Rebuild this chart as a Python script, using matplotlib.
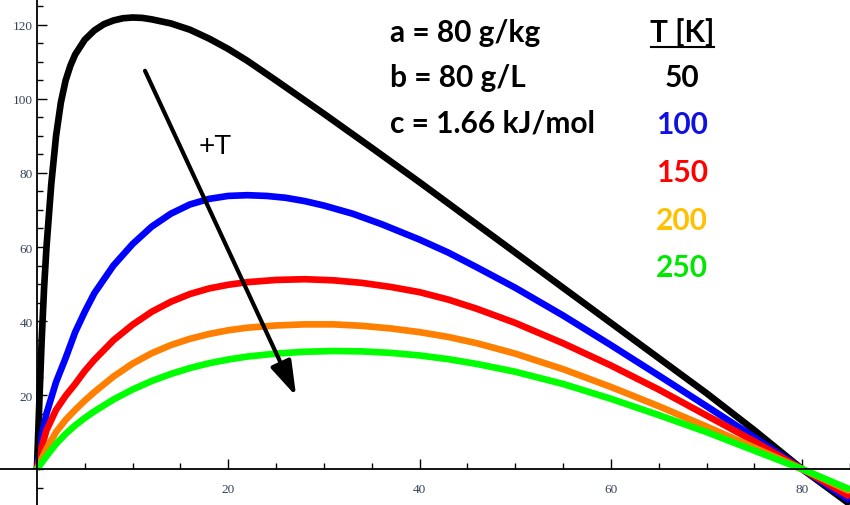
import matplotlib
matplotlib.use('Agg')
import matplotlib.pyplot as plt
from matplotlib.lines import Line2D

# curves, one x grid per curve
x_50 = [0, 0.25, 0.5, 0.75, 1, 1.5, 2, 2.5, 3, 3.5, 4, 5, 6, 7, 8, 9, 10, 11, 12, 14, 16, 18, 20, 22,
        25, 30, 35, 40, 45, 50, 55, 60, 65, 70, 75, 80, 85]
y_50 = [0, 18, 35, 49, 60, 77, 90, 99, 105, 109, 112, 116, 118.5, 120.2, 121.2, 121.8, 122, 121.9, 121.5,
        120.4, 118.7, 116.3, 113.5, 110.3, 105, 96, 86.8, 77.5, 68, 58.5, 49, 39.5, 30, 20.5, 10.5, 0, -9.5]

x_100 = [0, 0.5, 1, 2, 3, 4, 5, 6, 8, 10, 12, 14, 16, 18, 20, 22, 24, 26, 28, 30, 33, 36, 40, 43, 46,
         50, 55, 60, 65, 70, 75, 80, 85]
y_100 = [0, 9, 15, 23.5, 30, 37, 42.5, 47.5, 55, 60.8, 65.5, 69, 71.5, 73, 73.8, 74, 73.8, 73.3, 72.4,
         71.2, 69, 66.2, 62, 58.5, 54.5, 49, 41.5, 33.5, 25.3, 17, 8.6, 0, -8.5]

x_150 = [0, 0.5, 1, 2, 3, 4, 5, 6, 8, 10, 12, 14, 16, 18, 20, 22, 25, 28, 31, 34, 37, 40, 43, 46,
         50, 55, 60, 65, 70, 75, 80, 85]
y_150 = [0, 6, 10.5, 16, 19.8, 23, 26.5, 29.5, 34.8, 39, 42.5, 45.2, 47.3, 48.8, 49.8, 50.5, 51.1, 51.3,
         51, 50.3, 49.2, 47.8, 45.8, 43.3, 39.5, 34, 28, 21.5, 14.5, 7.5, 0, -7.5]

x_200 = [0, 1, 2, 3, 4, 5, 6, 8, 10, 12, 14, 16, 18, 20, 22, 25, 28, 31, 34, 37, 40, 43, 46,
         50, 55, 60, 65, 70, 75, 80, 85]
y_200 = [0, 5.5, 10, 13.3, 16, 18.5, 20.8, 25, 28.5, 31.3, 33.5, 35.2, 36.5, 37.5, 38.2, 38.8, 39.1,
         39.1, 38.7, 38, 37, 35.7, 34, 31.2, 27, 22.2, 17, 11.5, 5.8, 0, -6]

x_250 = [0, 1, 2, 3, 4, 5, 6, 8, 10, 12, 14, 16, 18, 20, 22, 25, 28, 31, 34, 37, 40, 43, 46,
         50, 55, 60, 65, 70, 75, 80, 85]
y_250 = [0, 3.5, 6.8, 9.5, 11.8, 13.8, 15.6, 18.8, 21.5, 23.8, 25.7, 27.3, 28.6, 29.6, 30.4, 31.2, 31.7,
         31.9, 31.8, 31.4, 30.7, 29.7, 28.4, 26.3, 23, 19, 14.6, 10, 5, 0, -5.5]

temps = ['50', '100', '150', '200', '250']
line_colors = ['black', '#0000ff', '#ff0000', '#ff8000', '#00ff00']
text_colors = ['black', '#1010e0', '#ff0000', '#ffc000', '#00e800']
params = ['a = 80 g/kg', 'b = 80 g/L', 'c = 1.66 kJ/mol']

fig = plt.figure(figsize=(8.5, 5.06), dpi=100)
ax = fig.add_axes([0, 0, 1, 1])

for xs, ys, col in zip([x_50, x_100, x_150, x_200, x_250],
                       [y_50, y_100, y_150, y_200, y_250], line_colors):
    ax.plot(xs, ys, color=col, lw=4.8, solid_capstyle='butt', solid_joinstyle='round')

ax.set_xlim(-3.86, 84.8)
ax.set_ylim(-9.7, 127)

# Mathematica-like axes through the origin
for s in ['top', 'right']:
    ax.spines[s].set_visible(False)
ax.spines['left'].set_position(('data', 0))
ax.spines['bottom'].set_position(('data', 0))
ax.spines['left'].set_linewidth(1.3)
ax.spines['bottom'].set_linewidth(1.3)
ax.set_xticks([20, 40, 60, 80])
ax.set_xticks(range(0, 86, 5), minor=True)
ax.set_yticks([20, 40, 60, 80, 100, 120])
ax.set_yticks(range(-5, 126, 5), minor=True)
ax.tick_params(which='both', direction='in', width=1, colors='black',
               labelcolor='#34425a', labelsize=9.5)
ax.tick_params(which='major', length=7)
ax.tick_params(which='minor', length=4)
for lab in ax.get_xticklabels() + ax.get_yticklabels():
    lab.set_fontfamily('Liberation Serif')
ax.tick_params(axis='x', pad=10)
ax.tick_params(axis='y', pad=3)

# temperature arrow
ax.annotate('', xy=(27.1, 19.7), xytext=(11.3, 107.6),
            arrowprops=dict(arrowstyle='-|>,head_length=0.7,head_width=0.22',
                            color='black', lw=3, mutation_scale=30,
                            shrinkA=0, shrinkB=0))
ax.text(18.6, 87.3, '+T', fontsize=20, family='Liberation Sans',
        ha='center', va='center')

bold = dict(family='Lato', fontweight='bold', fontsize=21.5)
for i, p in enumerate(params):
    fig.text(390 / 850, 1 - (33 + 45.5 * i) / 506, p, ha='left', va='center', **bold)

fig.text(682 / 850, 1 - 33 / 506, 'T [K]', ha='center', va='center', **bold)
fig.add_artist(Line2D([651 / 850, 714 / 850], [1 - 48 / 506, 1 - 48 / 506],
                      color='black', lw=1.5))
for i, (t, c) in enumerate(zip(temps, text_colors)):
    fig.text(682 / 850, 1 - (78 + 47.5 * i) / 506, t, ha='center', va='center',
             color=c, **bold)

fig.savefig('out.png', dpi=100)
